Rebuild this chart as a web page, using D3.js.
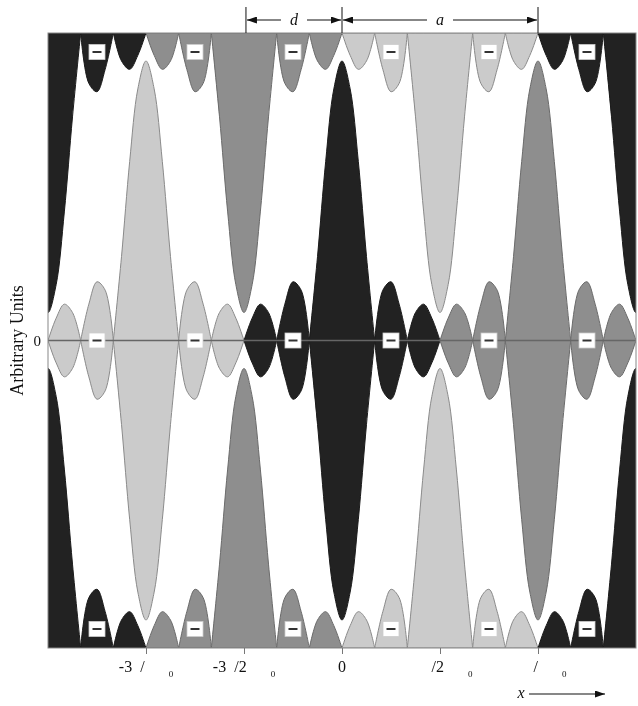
<!DOCTYPE html>
<html>
<head>
<meta charset="utf-8">
<script src="https://cdn.jsdelivr.net/npm/d3@7"></script>
<style>
    body { margin: 0; background: #fff; }
    svg { will-change: transform; }
    text { font-family: "Liberation Serif", "Times New Roman", serif; fill: #111; }
</style>
</head>
<body>
<div id="chart"></div>
<script>
// one diffraction order: fraction of peak, steps of pi/4 from -3pi to 3pi
var lobeProfile = [0, 0.08, 0.13, 0.10, 0, -0.13, -0.21, -0.18, 0,
    0.30, 0.64, 0.90, 1.00, 0.90, 0.64, 0.30,
    0, -0.18, -0.21, -0.13, 0, 0.10, 0.13, 0.08, 0];

// order centres in units of a, and their shades
var topOrders = [-1.5, -0.5, 0.5, 1.5];
var topShades = ["#222222", "#8e8e8e", "#cbcbcb", "#222222"];
var midOrders = [-1, 0, 1];
var midShades = ["#cbcbcb", "#222222", "#8e8e8e"];
var bottomOrders = [-1.5, -0.5, 0.5, 1.5];
var bottomShades = ["#222222", "#8e8e8e", "#cbcbcb", "#222222"];

var xTicks = [-1, -0.5, 0, 0.5, 1];
var tickMain = ["-3\u2002/\u2003\u2002", "-3\u2002/2\u2003\u2002", "0", "\u2003\u2002/2\u2003\u2002", "\u2003\u2002/\u2003\u2002"];
var tickSub = ["0", "0", "", "0", "0"];

var dSpan = [-0.49, 0];
var aSpan = [0, 1];

var width = 638, height = 706;
var margin = { top: 33, right: 2, bottom: 58, left: 48 };

var svg = d3.select("#chart").append("svg")
    .attr("width", width)
    .attr("height", height);

var x = d3.scaleLinear().domain([-1.5, 1.5]).range([margin.left, width - margin.right]);
var y = d3.scaleLinear().domain([-1.1, 1.1]).range([height - margin.bottom, margin.top]);

var outline = function (c) {
    if (c == "#222222") return "#1a1a1a";
    if (c == "#8e8e8e") return "#6a6a6a";
    return "#8a8a8a";
};

svg.append("defs").append("clipPath").attr("id", "plot")
    .append("rect")
    .attr("x", x(-1.5)).attr("y", y(1.1))
    .attr("width", x(1.5) - x(-1.5)).attr("height", y(-1.1) - y(1.1));

var arrowDefs = svg.select("defs").append("marker")
    .attr("id", "arr")
    .attr("viewBox", "0 0 10 7")
    .attr("refX", 10).attr("refY", 3.5)
    .attr("markerUnits", "userSpaceOnUse")
    .attr("markerWidth", 11).attr("markerHeight", 7)
    .attr("orient", "auto-start-reverse");
arrowDefs.append("path").attr("d", "M0,0 L10,3.5 L0,7 Z").attr("fill", "#111");

// split the profile into lobes between zeros
var lobes = [];
var start = 0;
for (var i = 1; i < lobeProfile.length; i++) {
    if (lobeProfile[i] == 0) {
        lobes.push({ from: start, to: i, sign: Math.sign(lobeProfile[Math.round((start + i) / 2)]) });
        start = i;
    }
}
var step = 1 / (lobeProfile.length - 1);

var plot = svg.append("g").attr("clip-path", "url(#plot)");
var marks = [];

function drawRow(orders, shades, base, dir) {
    orders.forEach(function (c, k) {
        lobes.forEach(function (lb) {
            var pts = d3.range(lb.from, lb.to + 1).map(function (j) {
                return { x: c + (j - 12) * step, v: Math.abs(lobeProfile[j]) };
            });
            var area = d3.area()
                .curve(d3.curveCatmullRom.alpha(0.5))
                .x(function (p) { return x(p.x); });
            if (dir == 0) {
                area.y0(function (p) { return y(-p.v); }).y1(function (p) { return y(p.v); });
            } else {
                area.y0(y(base)).y1(function (p) { return y(base + dir * p.v); });
            }
            plot.append("path")
                .attr("d", area(pts))
                .attr("fill", shades[k])
                .attr("stroke", outline(shades[k]))
                .attr("stroke-width", 1);
            var mx = c + ((lb.from + lb.to) / 2 - 12) * step;
            if (lb.sign < 0 && mx > -1.5 && mx < 1.5) {
                marks.push({ x: mx, y: base + (dir == 0 ? 0 : dir * 0.068) });
            }
        });
    });
}

drawRow(topOrders, topShades, 1.1, -1);
drawRow(bottomOrders, bottomShades, -1.1, 1);
drawRow(midOrders, midShades, 0, 0);

// zero line through the middle row
plot.append("line")
    .attr("x1", x(-1.5)).attr("x2", x(1.5))
    .attr("y1", y(0)).attr("y2", y(0))
    .attr("stroke", "#666").attr("stroke-width", 1.5);

svg.append("rect")
    .attr("x", x(-1.5)).attr("y", y(1.1))
    .attr("width", x(1.5) - x(-1.5)).attr("height", y(-1.1) - y(1.1))
    .attr("fill", "none").attr("stroke", "#888").attr("stroke-width", 1);

// minus signs on the negative lobes
var mk = svg.append("g").selectAll("g").data(marks).enter().append("g")
    .attr("transform", function (m) { return "translate(" + x(m.x) + "," + y(m.y) + ")"; });
mk.append("rect")
    .attr("x", -8).attr("y", -7.5).attr("width", 16).attr("height", 15)
    .attr("fill", "#fff").attr("stroke", "#ccc").attr("stroke-width", 0.8);
mk.append("line")
    .attr("x1", -4.5).attr("x2", 4.5).attr("y1", 0).attr("y2", 0)
    .attr("stroke", "#333").attr("stroke-width", 2);

// bottom axis
var axis = svg.append("g")
    .attr("transform", "translate(0," + y(-1.1) + ")")
    .call(d3.axisBottom(x).tickValues(xTicks).tickSize(6).tickFormat(""));
axis.select(".domain").remove();
axis.selectAll(".tick line").attr("stroke", "#777");

var lab = svg.append("g").selectAll("text").data(xTicks).enter().append("text")
    .attr("x", function (t) { return x(t); })
    .attr("y", y(-1.1) + 24)
    .attr("text-anchor", "middle")
    .attr("font-size", 16)
    .attr("fill", "#111")
    .style("white-space", "pre");
lab.append("tspan").attr("fill", "#111").text(function (t, i) { return tickMain[i]; });
lab.append("tspan")
    .attr("font-size", 9)
    .attr("fill", "#111")
    .attr("dy", 5)
    .text(function (t, i) { return tickSub[i]; });

// y axis text
svg.append("text")
    .attr("x", 41).attr("y", y(0))
    .attr("dy", "0.35em")
    .attr("text-anchor", "end")
    .attr("font-size", 15)
    .text("0");

svg.append("text")
    .attr("transform", "translate(23," + y(0) + ") rotate(-90)")
    .attr("text-anchor", "middle")
    .attr("font-size", 18)
    .text("Arbitrary Units");

// d and a spans above the plot
var spanY = 20;
[dSpan[0], 0, aSpan[1]].forEach(function (v) {
    svg.append("line")
        .attr("x1", x(v)).attr("x2", x(v))
        .attr("y1", 7).attr("y2", y(1.1))
        .attr("stroke", "#111").attr("stroke-width", 1);
});

function spanArrow(sp, label) {
    var mid = x((sp[0] + sp[1]) / 2);
    svg.append("line")
        .attr("x1", mid - 13).attr("x2", x(sp[0]) + 1)
        .attr("y1", spanY).attr("y2", spanY)
        .attr("stroke", "#111").attr("stroke-width", 1.2)
        .attr("marker-end", "url(#arr)");
    svg.append("line")
        .attr("x1", mid + 13).attr("x2", x(sp[1]) - 1)
        .attr("y1", spanY).attr("y2", spanY)
        .attr("stroke", "#111").attr("stroke-width", 1.2)
        .attr("marker-end", "url(#arr)");
    svg.append("text")
        .attr("x", mid).attr("y", spanY + 5)
        .attr("text-anchor", "middle")
        .attr("font-size", 16)
        .attr("font-style", "italic")
        .text(label);
}
spanArrow(dSpan, "d");
spanArrow(aSpan, "a");

// x direction arrow
svg.append("text")
    .attr("x", 521).attr("y", 698)
    .attr("text-anchor", "middle")
    .attr("font-size", 16)
    .attr("font-style", "italic")
    .text("x");
svg.append("line")
    .attr("x1", 529).attr("x2", 605)
    .attr("y1", 694).attr("y2", 694)
    .attr("stroke", "#111").attr("stroke-width", 1.2)
    .attr("marker-end", "url(#arr)");
</script>
</body>
</html>
